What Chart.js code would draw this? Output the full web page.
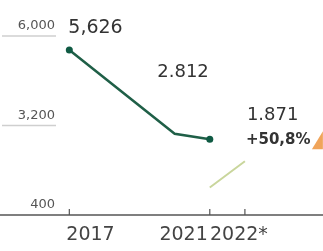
<!DOCTYPE html>
<html>
<head>
<meta charset="utf-8">
<script src="https://cdn.jsdelivr.net/npm/chart.js@4"></script>
<style>
  html, body { margin: 0; padding: 0; background: #fff; }
  #wrap { width: 323px; height: 251px; position: relative; }
</style>
</head>
<body>
<div id="wrap"><canvas id="chart"></canvas></div>
<script>
// values
const years = [2017, 2020, 2021];
const totals = [5560, 2940, 2770];
const forecastYears = [2021, 2022];
const forecast = [1260, 2080];
const yTicks = [6000, 3200, 400];
const yTickLabels = ['6,000', '3,200', '400'];
const xTicks = [2017, 2021, 2022];
const xTickLabels = ['2017', '2021', '2022*'];
const valueLabels = ['5,626', '2.812', '1.871'];
const growthLabel = '+50,8%';

const font = '"DejaVu Sans", sans-serif';

// axis, ticks, gridlines and text, placed with the chart's own scales
const decor = {
    id: 'decor',
    beforeDatasetsDraw(chart) {
        const { ctx, scales: { x, y } } = chart;
        ctx.save();
        // short gridlines + y labels
        ctx.font = '13px ' + font;
        ctx.fillStyle = '#555';
        ctx.textAlign = 'right';
        ctx.textBaseline = 'middle';
        yTicks.forEach((v, i) => {
            const py = y.getPixelForValue(v);
            if (i < yTicks.length - 1) {
                ctx.strokeStyle = '#cfcfcf';
                ctx.lineWidth = 1.5;
                ctx.beginPath();
                ctx.moveTo(2, py);
                ctx.lineTo(56, py);
                ctx.stroke();
            }
            ctx.fillText(yTickLabels[i], 55, py - 10);
        });
        // base axis
        const base = y.getPixelForValue(yTicks[yTicks.length - 1]);
        ctx.strokeStyle = '#555';
        ctx.lineWidth = 1.5;
        ctx.beginPath();
        ctx.moveTo(0, base);
        ctx.lineTo(chart.width, base);
        ctx.stroke();
        // x ticks + labels
        const aligns = ['left', 'right', 'center'];
        const shift = [-3, -2, -6];
        ctx.font = '19px ' + font;
        ctx.fillStyle = '#444';
        ctx.textBaseline = 'middle';
        xTicks.forEach((v, i) => {
            const px = x.getPixelForValue(v);
            ctx.lineWidth = 1.2;
            ctx.beginPath();
            ctx.moveTo(px, base - 6);
            ctx.lineTo(px, base);
            ctx.stroke();
            ctx.textAlign = aligns[i];
            ctx.fillText(xTickLabels[i], px + shift[i], base + 20);
        });
        ctx.restore();
    },
    afterDatasetsDraw(chart) {
        const { ctx, scales: { x, y } } = chart;
        ctx.save();
        ctx.fillStyle = '#333';
        ctx.textBaseline = 'middle';
        ctx.font = '19px ' + font;
        // 2017 value
        ctx.textAlign = 'left';
        ctx.fillText(valueLabels[0], x.getPixelForValue(years[0]) - 1, y.getPixelForValue(totals[0]) - 22);
        // 2021 value
        ctx.font = '18px ' + font;
        ctx.textAlign = 'right';
        ctx.fillText(valueLabels[1], x.getPixelForValue(years[2]) - 1, y.getPixelForValue(totals[2]) - 67);
        // 2022 forecast
        const fx = x.getPixelForValue(forecastYears[1]);
        const fy = y.getPixelForValue(forecast[1]);
        ctx.textAlign = 'left';
        ctx.fillText(valueLabels[2], fx + 2, fy - 46);
        ctx.font = 'bold 15px ' + font;
        ctx.fillText(growthLabel, fx + 1, fy - 21);
        // orange arrow, cut by the right edge
        ctx.fillStyle = '#f0a45a';
        ctx.beginPath();
        ctx.moveTo(fx + 67, fy - 12);
        ctx.lineTo(fx + 78, fy - 12);
        ctx.lineTo(fx + 78, fy - 30);
        ctx.closePath();
        ctx.fill();
        ctx.restore();
    }
};

new Chart(document.getElementById('chart'), {
    type: 'line',
    data: {
        datasets: [{
            data: years.map((yr, i) => ({ x: yr, y: totals[i] })),
            borderColor: '#1f5f47',
            backgroundColor: '#0f5a43',
            borderWidth: 2.5,
            pointRadius: [3.5, 0, 3.5],
            pointBorderWidth: 0,
            tension: 0
        }, {
            data: forecastYears.map((yr, i) => ({ x: yr, y: forecast[i] })),
            borderColor: '#c9d69c',
            borderWidth: 2,
            pointRadius: 0,
            tension: 0
        }]
    },
    options: {
        responsive: true,
        maintainAspectRatio: false,
        animation: false,
        layout: { padding: 0 },
        plugins: { legend: { display: false }, tooltip: { enabled: false } },
        scales: {
            x: { type: 'linear', min: 2015.14, max: 2024.11, display: false },
            y: { min: -600, max: 7000, display: false }
        }
    },
    plugins: [decor]
});
</script>
</body>
</html>
